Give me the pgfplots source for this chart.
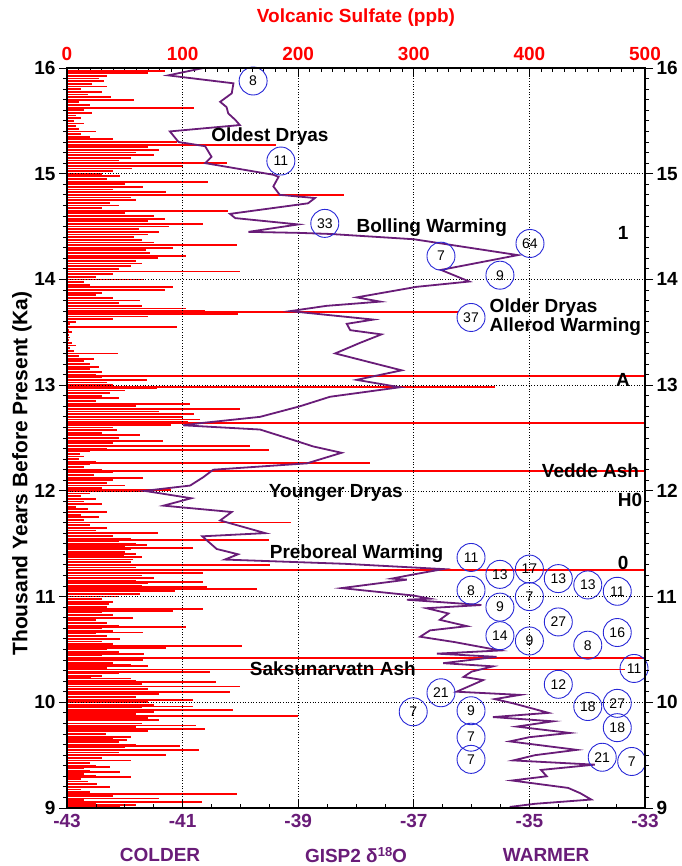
\documentclass[border=0pt]{standalone}
\usepackage{pgfplots}
\pgfplotsset{compat=1.18}
\usepackage{fontspec}
\setmainfont{Liberation Sans}
\definecolor{cpurple}{RGB}{105,28,120}
\definecolor{cblue}{RGB}{40,40,215}
\newcommand\TickFont{\bfseries\fontsize{19}{19}\selectfont}
\newcommand\LabFont{\bfseries\fontsize{19}{19}\selectfont}
\pgfplotsset{base/.style={width=578pt,height=740pt,scale only axis,ymin=9,ymax=16,
  /pgf/number format/assume math mode=true,major tick length=8pt,minor tick length=4pt}}

\pgfplotstableread{
age ppb
16.000 55
15.975 85
15.950 70
15.925 35
15.900 28
15.875 32
15.850 22
15.825 35
15.800 12
15.775 30
15.750 18
15.725 38
15.700 58
15.675 10
15.650 20
15.625 110
15.600 15
15.575 22
15.550 8
15.525 12
15.500 6
15.475 15
15.450 8
15.425 10
15.400 25
15.375 12
15.350 20
15.325 40
15.300 95
15.275 181
15.250 70
15.225 80
15.200 60
15.175 75
15.150 55
15.125 45
15.100 138
15.075 100
15.050 56
15.025 40
15.000 30
14.975 46
14.950 35
14.925 122
14.900 50
14.875 66
14.850 40
14.825 86
14.800 240
14.775 55
14.750 60
14.725 37
14.700 45
14.675 30
14.650 139
14.625 50
14.600 75
14.575 85
14.550 70
14.525 118
14.500 88
14.475 62
14.450 80
14.425 70
14.400 58
14.375 65
14.350 75
14.325 147
14.300 92
14.275 68
14.250 72
14.225 103
14.200 79
14.175 60
14.150 65
14.125 55
14.100 45
14.075 150
14.050 40
14.025 25
14.000 66
13.975 15
13.950 20
13.925 92
13.900 85
13.875 30
13.850 25
13.825 40
13.800 63
13.775 45
13.750 65
13.725 103
13.700 119
13.690 338
13.675 148
13.650 70
13.625 40
13.600 8
13.575 3
13.550 95
13.525 2
13.500 4
13.475 2
13.450 3
13.425 2
13.400 4
13.375 8
13.350 3
13.325 6
13.300 44
13.275 10
13.250 23
13.225 15
13.200 20
13.175 28
13.150 20
13.125 30
13.100 25
13.086 520
13.075 30
13.050 69
13.025 35
13.000 40
12.980 370
12.975 78
12.950 50
12.925 37
12.900 30
12.875 45
12.850 25
12.825 106
12.800 60
12.775 150
12.750 80
12.725 110
12.700 100
12.675 115
12.650 105
12.640 520
12.625 90
12.600 40
12.575 43
12.550 30
12.525 63
12.500 45
12.475 83
12.450 40
12.425 158
12.400 35
12.390 175
12.375 20
12.350 11
12.325 15
12.300 10
12.275 25
12.260 262
12.250 20
12.225 15
12.200 30
12.190 520
12.175 40
12.150 23
12.125 66
12.100 40
12.075 35
12.050 50
12.025 30
12.010 90
12.000 66
11.975 20
11.950 12
11.925 25
11.900 15
11.875 30
11.850 8
11.825 18
11.800 35
11.775 12
11.750 28
11.725 15
11.700 194
11.675 20
11.650 35
11.625 25
11.600 79
11.575 40
11.550 55
11.535 175
11.525 45
11.500 60
11.490 69
11.475 50
11.460 109
11.450 55
11.425 50
11.400 60
11.390 49
11.375 65
11.350 57
11.325 55
11.300 176
11.275 60
11.250 520
11.225 118
11.200 65
11.175 75
11.150 60
11.140 118
11.125 70
11.100 65
11.090 121
11.075 164
11.050 93
11.025 63
11.000 45
10.975 30
10.950 40
10.930 36
10.925 25
10.900 35
10.880 118
10.860 92
10.850 30
10.825 40
10.800 57
10.775 25
10.750 35
10.725 45
10.710 103
10.700 30
10.675 40
10.660 66
10.650 25
10.625 35
10.600 46
10.575 30
10.550 40
10.530 151
10.510 86
10.500 35
10.475 45
10.460 67
10.450 30
10.420 520
10.400 66
10.375 40
10.350 55
10.340 70
10.325 35
10.310 483
10.290 124
10.275 45
10.250 30
10.240 21
10.225 55
10.200 60
10.190 129
10.175 65
10.150 150
10.125 70
10.100 141
10.075 80
10.050 60
10.025 109
10.000 70
9.975 75
9.960 109
9.950 65
9.930 144
9.910 75
9.890 60
9.870 200
9.850 70
9.830 80
9.800 65
9.780 112
9.765 60
9.750 119
9.725 70
9.700 34
9.675 55
9.650 40
9.640 52
9.625 45
9.600 60
9.590 98
9.575 50
9.550 114
9.525 45
9.500 86
9.475 30
9.450 55
9.425 20
9.400 25
9.390 37
9.375 15
9.350 20
9.340 46
9.325 15
9.300 25
9.290 55
9.275 12
9.250 18
9.230 26
9.200 37
9.175 12
9.150 20
9.130 147
9.110 40
9.090 80
9.075 15
9.060 117
9.040 25
9.030 60
9.010 46
9.000 20
}\sulfate

\pgfplotstableread{
d18O age
-40.64 16.00
-41.25 15.93
-40.12 15.855
-40.15 15.76
-40.35 15.68
-40.24 15.63
-40.21 15.57
-40.09 15.51
-40.01 15.46
-41.22 15.40
-41.07 15.30
-40.61 15.26
-40.50 15.16
-40.61 15.10
-39.43 14.99
-39.34 14.97
-39.43 14.88
-39.32 14.80
-38.71 14.77
-38.83 14.72
-40.18 14.62
-40.09 14.58
-39.00 14.52
-39.86 14.45
-38.97 14.44
-38.45 14.43
-37.00 14.38
-35.20 14.23
-36.53 14.09
-36.04 13.98
-36.95 13.93
-37.99 13.83
-37.58 13.79
-38.51 13.75
-39.14 13.70
-37.70 13.62
-38.16 13.58
-38.10 13.52
-37.56 13.48
-37.93 13.40
-38.36 13.30
-37.21 13.14
-37.99 13.05
-37.24 12.98
-38.45 12.89
-38.97 12.80
-39.66 12.70
-40.70 12.64
-40.99 12.62
-39.66 12.58
-39.08 12.48
-38.74 12.42
-38.25 12.36
-38.85 12.26
-40.47 12.20
-40.64 12.13
-40.87 12.05
-41.66 12.00
-40.85 11.93
-41.33 11.86
-40.15 11.80
-40.35 11.72
-39.57 11.60
-40.66 11.57
-40.41 11.45
-40.04 11.40
-40.27 11.35
-38.20 11.31
-36.49 11.26
-37.00 11.21
-37.38 11.17
-37.12 11.16
-38.25 11.08
-37.01 11.01
-36.72 10.98
-37.12 10.97
-35.83 10.92
-36.78 10.89
-36.40 10.84
-36.55 10.78
-36.08 10.72
-36.72 10.68
-36.89 10.62
-36.30 10.57
-35.51 10.49
-36.60 10.46
-35.57 10.43
-36.49 10.37
-35.63 10.34
-36.00 10.29
-36.14 10.24
-35.80 10.21
-36.26 10.10
-35.16 10.07
-35.60 10.03
-35.28 9.99
-34.67 9.90
-35.63 9.86
-34.59 9.82
-35.22 9.77
-34.30 9.71
-35.00 9.67
-35.34 9.63
-34.18 9.55
-34.90 9.50
-35.28 9.45
-33.87 9.41
-34.80 9.36
-34.70 9.30
-35.30 9.26
-34.33 9.19
-34.12 9.14
-33.93 9.08
-34.90 9.04
-35.34 9.01
}\isotope

\pgfplotstableread{
x y lab
-39.78 15.877 8
-39.30 15.12 11
-38.54 14.53 33
-34.99 14.34 64
-36.53 14.22 7
-35.51 14.04 9
-36.01 13.64 37
-36.01 11.37 11
-35.51 11.21 13
-35.00 11.26 17
-34.50 11.17 13
-33.99 11.11 13
-33.48 11.05 11
-36.01 11.06 8
-35.00 11.00 7
-35.51 10.90 9
-34.50 10.76 27
-33.48 10.66 16
-35.51 10.63 14
-35.00 10.58 9
-33.99 10.54 8
-33.19 10.32 11
-34.50 10.17 12
-36.53 10.09 21
-37.01 9.91 7
-36.01 9.92 9
-33.99 9.96 18
-33.48 9.99 27
-33.48 9.76 18
-36.01 9.67 7
-36.01 9.46 7
-33.74 9.48 21
-33.23 9.44 7
}\circles

\begin{document}
\begin{tikzpicture}
% sulfate axis (top, right labels)
\begin{axis}[base,name=A,xmin=0,xmax=500,axis line style={draw=none},
  xtick={0,100,...,500},minor x tick num=9,xtick pos=right,xticklabel pos=right,
  tick align=inside,xtick style={black,line width=0.8pt},
  xticklabel style={red,font=\TickFont},xticklabel shift=4pt,
  ytick={9,...,16},ytick pos=right,yticklabel pos=right,ytick style={draw=none},
  yticklabel style={font=\TickFont},yticklabel shift=8pt]
\addplot[xcomb,red,line width=1.8pt] table[x=ppb,y=age] {\sulfate};
\end{axis}
% isotope axis (bottom)
\begin{axis}[base,name=B,xmin=-43,xmax=-33,axis line style={draw=none},
  xtick={-43,-41,-39,-37,-35,-33},xticklabels={-43,-41,-39,-37,-35,-33},
  minor x tick num=3,xtick pos=left,xticklabel pos=left,tick align=inside,
  xtick style={black,line width=0.8pt},xticklabel style={cpurple,font=\TickFont},
  xticklabel shift=3pt,
  ytick={10,...,15},ytick style={draw=none},yticklabel=\empty,
  xmajorgrids,ymajorgrids,grid style={black,line width=0.7pt,dotted},clip=false]
\addplot[cpurple,line width=1.8pt] table[x=d18O,y=age] {\isotope};
\addplot[only marks,mark=o,mark size=14pt,cblue,mark options={line width=0.9pt},
  nodes near coords,point meta=explicit symbolic,
  every node near coord/.append style={anchor=center,black,inner sep=0pt,
    font=\fontsize{14}{14}\selectfont}]
  table[x=x,y=y,meta=lab] {\circles};
\node[font=\LabFont] at (axis cs:-39.49,15.35) {Oldest Dryas};
\node[font=\LabFont] at (axis cs:-36.69,14.49) {Bolling Warming};
\node[font=\LabFont] at (axis cs:-33.38,14.44) {1};
\node[font=\bfseries\fontsize{19}{16}\selectfont,anchor=west,inner sep=0pt,align=left] at (axis cs:-35.69,13.645) {Older Dryas\\Allerod Warming};
\node[font=\LabFont] at (axis cs:-33.38,13.05) {A};
\node[font=\LabFont,anchor=east,inner sep=0pt] at (axis cs:-33.10,12.19) {Vedde Ash};
\node[font=\LabFont] at (axis cs:-33.26,11.91) {H0};
\node[font=\LabFont] at (axis cs:-38.35,11.98) {Younger Dryas};
\node[font=\LabFont] at (axis cs:-37.99,11.41) {Preboreal Warming};
\node[font=\LabFont] at (axis cs:-33.38,11.32) {0};
\node[font=\LabFont] at (axis cs:-38.40,10.32) {Saksunarvatn Ash};
\node[font=\LabFont,text=cpurple] at (axis cs:-41.39,9) [yshift=-47pt] {COLDER};
\node[font=\LabFont,text=cpurple] at (axis cs:-38.0,9) [yshift=-47pt] {GISP2 δ\raisebox{0.55ex}{\fontsize{13}{13}\selectfont 18}O};
\node[font=\LabFont,text=cpurple] at (axis cs:-34.71,9) [yshift=-47pt] {WARMER};
\node[font=\LabFont,text=red] at (rel axis cs:0.5,1) [yshift=50pt] {Volcanic Sulfate (ppb)};
\end{axis}
% frame and y ticks
\begin{axis}[base,name=C,xmin=-43,xmax=-33,xtick=\empty,
  ytick={9,...,16},minor y tick num=9,ytick pos=both,yticklabel pos=left,
  tick align=outside,ytick style={black,line width=0.8pt},
  yticklabel style={font=\TickFont},axis line style={black,line width=1.2pt},
  ylabel={Thousand Years Before Present (Ka)},
  ylabel style={font=\bfseries\fontsize{21}{21}\selectfont,
    at={([xshift=-45pt]rel axis cs:0,0.452)},anchor=center}]
\end{axis}
\pgfresetboundingbox
\path[use as bounding box] ([shift={(-67pt,-58pt)}]C.south west) rectangle ([shift={(36pt,68pt)}]C.north east);
\end{tikzpicture}
\end{document}
